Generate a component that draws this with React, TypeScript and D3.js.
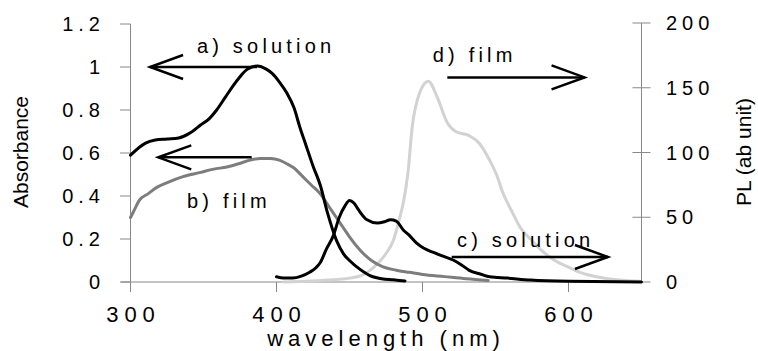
import * as d3 from 'd3';

// a) solution absorbance
const absSolutionWl = [300, 310, 317, 325, 333, 340, 348, 354, 359, 365, 370, 375, 380, 387, 393, 397, 402, 407, 412, 416, 420, 425, 430, 435, 441, 446, 450, 457, 464, 472, 480, 488];
const absSolution = [0.59, 0.645, 0.66, 0.665, 0.67, 0.69, 0.73, 0.76, 0.80, 0.86, 0.91, 0.955, 0.99, 1.005, 0.99, 0.97, 0.93, 0.88, 0.81, 0.72, 0.64, 0.54, 0.45, 0.32, 0.195, 0.13, 0.10, 0.06, 0.03, 0.015, 0.01, 0.005];

// b) film absorbance
const absFilmWl = [300, 303, 306, 312, 318, 326, 336, 348, 357, 366, 374, 382, 389, 396, 402, 407, 412, 418, 424, 430, 436, 441, 446, 450, 457, 465, 473, 482, 491, 500, 515, 530, 545];
const absFilm = [0.30, 0.34, 0.38, 0.41, 0.44, 0.465, 0.49, 0.51, 0.525, 0.535, 0.55, 0.567, 0.575, 0.575, 0.567, 0.55, 0.53, 0.49, 0.45, 0.41, 0.35, 0.30, 0.25, 0.21, 0.15, 0.10, 0.07, 0.055, 0.045, 0.035, 0.025, 0.015, 0.007];

// c) solution PL
const plSolutionWl = [400, 405, 411, 417, 423, 427, 430, 434, 439, 443, 447, 450, 453, 456, 462, 469, 474, 478, 482, 487, 491, 496, 501, 507, 514, 521, 527, 532, 540, 546, 558, 574, 600, 650];
const plSolution = [4, 3, 3, 4.5, 7.7, 11, 15, 25, 36, 50, 59, 63, 61, 56, 48, 45.5, 46.5, 48, 47, 40, 36, 30, 26, 23, 20, 17, 13, 9, 6, 4, 3, 1.5, 0.5, 0];

// d) film PL
const plFilmWl = [405, 420, 435, 450, 458, 464, 470, 475, 480, 484, 487, 490, 493, 498, 504, 510, 517, 523, 532, 539, 546, 551, 555, 561, 567, 574, 581, 590, 599, 609, 619, 635, 649];
const plFilm = [0, 0.5, 1.5, 3, 5, 9, 15, 22, 32, 48, 62, 84, 120, 146, 155, 143, 123, 116, 113, 107, 94, 82, 69, 55, 42, 33, 25, 17, 12, 7, 4, 1.5, 0.5];

const xTicks = [300, 400, 500, 600];
const leftTicks = [0, 0.2, 0.4, 0.6, 0.8, 1, 1.2];
const rightTicks = [0, 50, 100, 150, 200];

// annotation labels and arrows, in data units
const labels = [
  { text: 'a) solution', wl: 345.5, v: 1.065, axis: 'left' },
  { text: 'b) film', wl: 338.7, v: 0.344, axis: 'left' },
  { text: 'c) solution', wl: 523.6, v: 27, axis: 'right' },
  { text: 'd) film', wl: 507, v: 170, axis: 'right' },
];
const arrows = [
  { from: 386.6, to: 313.4, v: 1.0, axis: 'left' },
  { from: 383, to: 319, v: 0.58, axis: 'left' },
  { from: 520, to: 627, v: 19.3, axis: 'right' },
  { from: 517, to: 611, v: 158, axis: 'right' },
];

const font = 'Liberation Sans, Arial, sans-serif';

export default function App() {
  const x = d3.scaleLinear().domain([300, 650]).range([130.5, 641.5]);
  const yL = d3.scaleLinear().domain([0, 1.2]).range([282, 24]);
  const yR = d3.scaleLinear().domain([0, 200]).range([282, 23]);

  const mk = (wl: number[], vals: number[], y: d3.ScaleLinear<number, number>) =>
    d3.line<number>().x((d, i) => x(wl[i])).y(d => y(d)).curve(d3.curveMonotoneX)(vals) || '';

  const yOf = (axis: string, v: number) => (axis === 'left' ? yL(v) : yR(v));

  return (
    <svg width={758} height={351} style={{ position: 'absolute', left: 0, top: 0 }} fontFamily={font}>
      <rect width={758} height={351} fill="white" />
      {/* axes */}
      <g stroke="#888" strokeWidth={1}>
        <line x1={x(300)} x2={x(300)} y1={yL(1.2)} y2={yL(0) + 10} />
        <line x1={121} x2={x(650)} y1={yL(0)} y2={yL(0)} />
        <line x1={x(650)} x2={x(650)} y1={yR(200)} y2={yR(0)} />
        {leftTicks.map(t => <line key={'l' + t} x1={120} x2={x(300)} y1={yL(t)} y2={yL(t)} />)}
        {xTicks.map(t => <line key={'x' + t} x1={x(t)} x2={x(t)} y1={yL(0)} y2={yL(0) + 10} />)}
        {rightTicks.map(t => <line key={'r' + t} x1={x(650) - 9} x2={x(650) + 9} y1={yR(t)} y2={yR(t)} />)}
      </g>
      <g fontSize={20} fill="black" letterSpacing={5}>
        {leftTicks.map(t => (
          <text key={'lt' + t} x={105} y={yL(t) + 7} textAnchor="end">{String(t)}</text>
        ))}
        {rightTicks.map(t => (
          <text key={'rt' + t} x={666} y={yR(t) + 7}>{String(t)}</text>
        ))}
      </g>
      <g fontSize={22} fill="black" letterSpacing={6}>
        {xTicks.map(t => (
          <text key={'xt' + t} x={x(t) + 3} y={322} textAnchor="middle">{String(t)}</text>
        ))}
      </g>
      <text x={386} y={346} fontSize={22} letterSpacing={5} textAnchor="middle">wavelength (nm)</text>
      <text transform="translate(28,152) rotate(-90)" fontSize={21} textAnchor="middle">Absorbance</text>
      <text transform="translate(751,152) rotate(-90)" fontSize={21} textAnchor="middle">PL (ab unit)</text>

      {/* curves */}
      <g fill="none" strokeWidth={3} strokeLinejoin="round" strokeLinecap="round">
        <path d={mk(plFilmWl, plFilm, yR)} stroke="#d2d2d2" />
        <path d={mk(absFilmWl, absFilm, yL)} stroke="#7d7d7d" />
        <path d={mk(absSolutionWl, absSolution, yL)} stroke="black" />
        <path d={mk(plSolutionWl, plSolution, yR)} stroke="black" />
      </g>

      {/* annotations */}
      <g fontSize={20} letterSpacing={4.2} fill="black">
        {labels.map(l => (
          <text key={l.text + l.wl} x={x(l.wl)} y={yOf(l.axis, l.v)}>{l.text}</text>
        ))}
      </g>
      <g stroke="black" strokeWidth={2.5} fill="none">
        {arrows.map((a, i) => {
          const y = yOf(a.axis, a.v);
          const tip = x(a.to);
          const dir = a.to > a.from ? -1 : 1;
          return (
            <g key={i}>
              <line x1={x(a.from)} x2={tip} y1={y} y2={y} />
              <polyline points={`${tip + dir * 33},${y - 12} ${tip},${y} ${tip + dir * 33},${y + 12}`} />
            </g>
          );
        })}
      </g>
    </svg>
  );
}
